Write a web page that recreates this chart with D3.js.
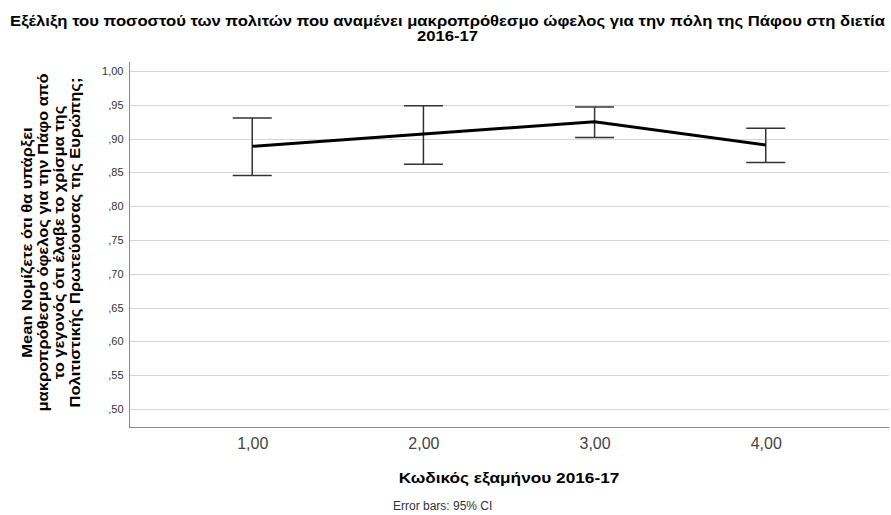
<!DOCTYPE html>
<html><head><meta charset="utf-8">
<script src="https://cdn.jsdelivr.net/npm/d3@7"></script>
<style>
html,body{margin:0;padding:0;background:#fff;}
svg{display:block;font-family:"Liberation Sans",Arial,sans-serif;}
</style></head>
<body>
<script>
const categories = ["1,00", "2,00", "3,00", "4,00"];
const means = [0.8886, 0.9068, 0.9248, 0.8905];
const ciLower = [0.8455, 0.8619, 0.9015, 0.8648];
const ciUpper = [0.9305, 0.9485, 0.9466, 0.9153];
const yTicks = [0.50, 0.55, 0.60, 0.65, 0.70, 0.75, 0.80, 0.85, 0.90, 0.95, 1.00];
const titleLines = ["Εξέλιξη του ποσοστού των πολιτών που αναμένει μακροπρόθεσμο ώφελος για την πόλη της Πάφου στη διετία", "2016-17"];
const yLabelLines = ["Mean Νομίζετε ότι θα υπάρξει", "μακροπρόθεσμο όφελος για την Πάφο από", "το γεγονός ότι έλαβε το χρίσμα της", "Πολιτιστικής Πρωτεύουσας της Ευρώπης;"];
const xLabel = "Κωδικός εξαμήνου 2016-17";
const footnote = "Error bars: 95% CI";

const W = 891, H = 515;
const L = 129, R = 889, T = 62, B = 427;
const svg = d3.select("body").append("svg").attr("width", W).attr("height", H);

const x = d3.scalePoint().domain(categories).range([L, R]).padding(0.72);
const y = d3.scaleLinear().domain([0.4734, 1.0133]).range([B, T]);
const fmt = v => { const s = v.toFixed(2).replace(".", ","); return s.startsWith("0") ? s.slice(1) : s; };

// gridlines
svg.append("g").selectAll("line").data(yTicks).join("line")
  .attr("x1", L).attr("x2", R)
  .attr("y1", d => Math.round(y(d)) + 0.5).attr("y2", d => Math.round(y(d)) + 0.5)
  .attr("stroke", "#d6d6d6").attr("stroke-width", 1);

// y axis
const yAxis = svg.append("g").attr("transform", `translate(${L + 0.5},0)`)
  .call(d3.axisLeft(y).tickValues(yTicks).tickFormat(fmt).tickSize(0).tickPadding(6));
yAxis.select(".domain").attr("d", `M0,${T}V${B}`).attr("stroke", "#8a8a8a");
yAxis.selectAll("text").attr("font-size", 11).attr("fill", "#333").attr("font-family", "Liberation Sans,Arial,sans-serif");

// x axis
const xAxis = svg.append("g").attr("transform", `translate(0,${B + 0.5})`)
  .call(d3.axisBottom(x).tickSize(0).tickPadding(10));
xAxis.select(".domain").attr("d", `M${L},0H${R}`).attr("stroke", "#8a8a8a");
xAxis.selectAll("text").attr("font-size", 16).attr("fill", "#444").attr("font-family", "Liberation Sans,Arial,sans-serif");

// error bars
const capW = 19.5;
const eb = svg.append("g").attr("stroke", "#333").attr("stroke-width", 1.5).attr("fill", "none");
categories.forEach((c, i) => {
  const cx = x(c);
  eb.append("line").attr("x1", cx).attr("x2", cx).attr("y1", y(ciLower[i])).attr("y2", y(ciUpper[i]));
  eb.append("line").attr("x1", cx - capW).attr("x2", cx + capW).attr("y1", y(ciLower[i])).attr("y2", y(ciLower[i]));
  eb.append("line").attr("x1", cx - capW).attr("x2", cx + capW).attr("y1", y(ciUpper[i])).attr("y2", y(ciUpper[i]));
});

// mean line
svg.append("path").datum(categories.map((c, i) => [x(c), y(means[i])]))
  .attr("d", d3.line()).attr("fill", "none").attr("stroke", "#000").attr("stroke-width", 3)
  .attr("stroke-linejoin", "miter");

// title
svg.append("g").selectAll("text").data(titleLines).join("text")
  .attr("transform", (d, i) => `translate(${447.5},${26 + i * 14.5}) scale(1.19,1)`)
  .attr("text-anchor", "middle").attr("font-size", 14).attr("font-weight", "bold").attr("fill", "#000")
  .text(d => d);

// y label
const yc = (T + B) / 2 - 2;
svg.append("g").selectAll("text").data(yLabelLines).join("text")
  .attr("transform", (d, i) => `translate(${32 + i * 16},${yc}) rotate(-90) scale(1.18,1)`)
  .attr("text-anchor", "middle").attr("font-size", 14).attr("font-weight", "bold").attr("fill", "#000")
  .text(d => d);

// x label
svg.append("text").attr("transform", `translate(${(L + R) / 2},483) scale(1.15,1)`)
  .attr("text-anchor", "middle").attr("font-size", 15).attr("font-weight", "bold").attr("fill", "#000")
  .text(xLabel);

svg.append("text").attr("x", 393).attr("y", 510)
  .attr("font-size", 12).attr("fill", "#333").text(footnote);
</script>
</body></html>
